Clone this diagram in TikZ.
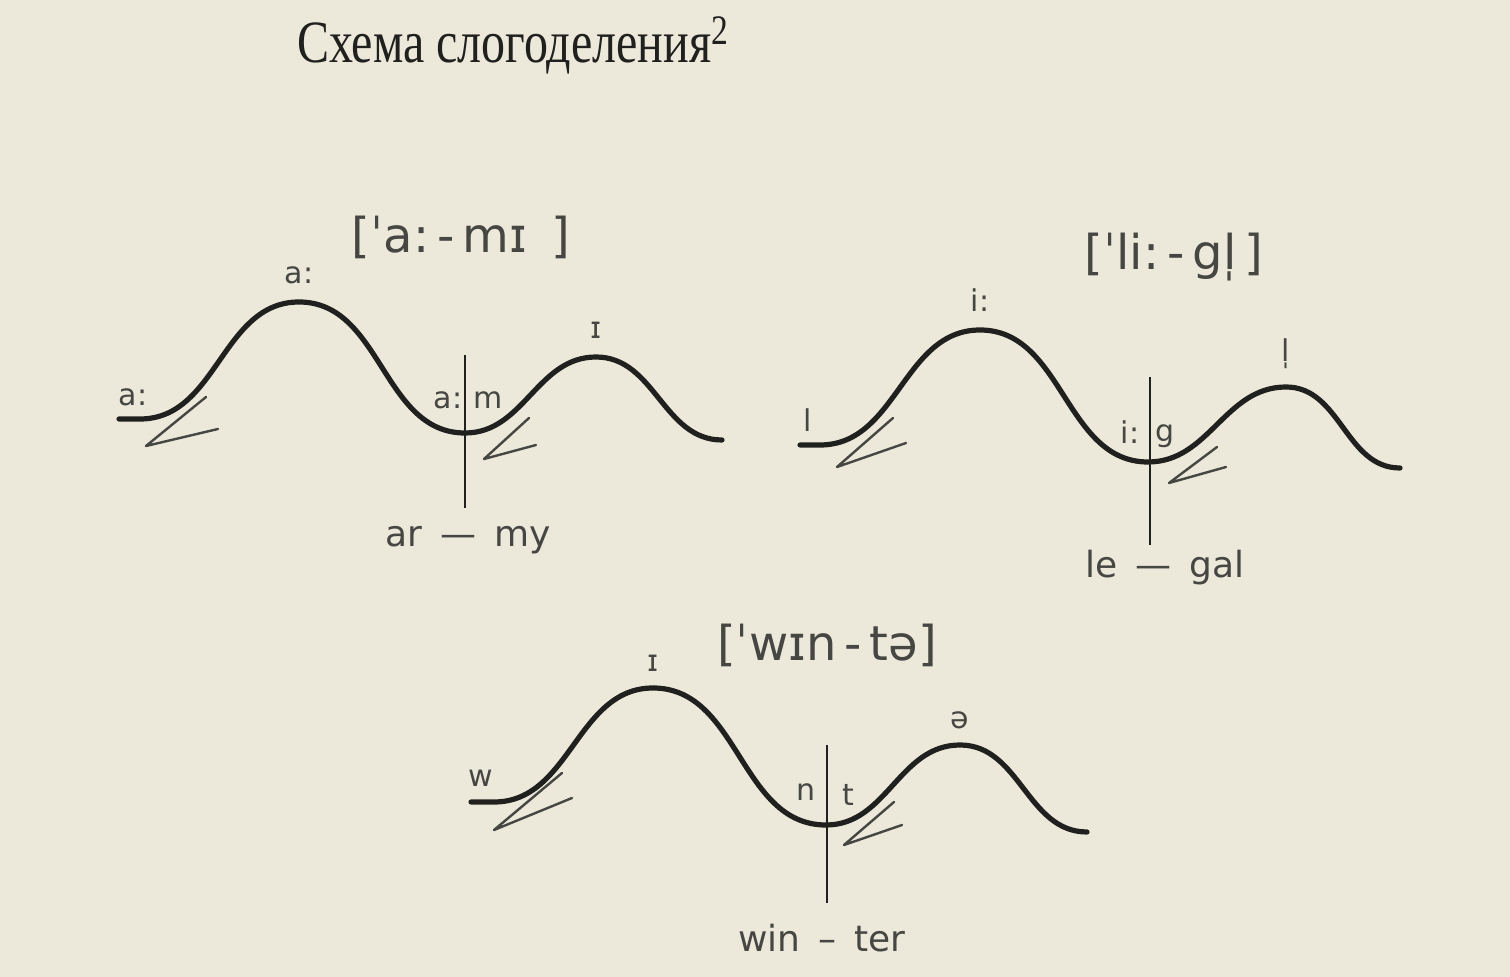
\documentclass[tikz,border=0pt]{standalone}
\usepackage{fontspec}
\setmainfont{Liberation Serif}
\newfontfamily\phonfont{DejaVu Sans}
\usetikzlibrary{positioning}
\definecolor{paper}{RGB}{236,233,219}
\definecolor{ink}{RGB}{32,32,30}
\definecolor{pencil}{RGB}{70,70,66}

\begin{document}
\begin{tikzpicture}[x=0.5pt,y=-0.5pt,
    wave/.style={ink, line width=2.6pt, line cap=round, line join=round},
    cut/.style={ink, line width=1pt},
    push/.style={pencil, line width=1.2pt, line cap=round, line join=round},
    snd/.style={pencil, inner sep=0pt, font=\phonfont\fontsize{15}{15}\selectfont},
    brk/.style={pencil, inner sep=0pt, font=\phonfont\fontsize{24}{24}\selectfont},
    word/.style={pencil, inner sep=0pt, font=\phonfont\fontsize{18}{18}\selectfont}]
    % Paper
    \fill[paper] (0,0) rectangle (1510,977);
    \useasboundingbox (0,0) rectangle (1510,977);

    \node[ink, inner sep=0pt, transform shape, xscale=0.8,
          font=\fontsize{30}{30}\selectfont] (title) at (513,45) {Схема слогоделения\textsuperscript{2}};

    % army
    \coordinate (a0) at (119,419);
    \coordinate (a1) at (140,419);
    \coordinate (a2) at (299,302);
    \coordinate (a3) at (465,433);
    \coordinate (a4) at (596,357);
    \coordinate (a5) at (722,440);
    \draw[wave] (a0) -- (a1) to[out=0,in=180] (a2) to[out=0,in=180] (a3)
                to[out=0,in=180] (a4) to[out=0,in=180] (a5);
    \draw[cut] (465,355) -- (465,508);
    \draw[push] (206,397) -- (146,446) -- (218,429);
    \draw[push] (529,418) -- (484,459) -- (536,445);
    \node[brk] (tr1) at (461,237) {[ˈa:\,-\,mɪ\enspace]};
    \node[snd] (s11) at (133,397) {a:};
    \node[snd, above=9pt of a2] (s12) {a:};
    \node[snd] (s13) at (448,400) {a:};
    \node[snd] (s14) at (488,400) {m};
    \node[snd, above=9pt of a4] (s15) {ɪ};
    \node[word] (w1) at (468,540) {ar\enspace—\enspace my};

    % legal
    \coordinate (b0) at (800,445);
    \coordinate (b1) at (820,445);
    \coordinate (b2) at (980,330);
    \coordinate (b3) at (1148,462);
    \coordinate (b4) at (1286,387);
    \coordinate (b5) at (1400,468);
    \draw[wave] (b0) -- (b1) to[out=0,in=180] (b2) to[out=0,in=180] (b3)
                to[out=0,in=180] (b4) to[out=0,in=180] (b5);
    \draw[cut] (1150,377) -- (1150,545);
    \draw[push] (893,418) -- (837,467) -- (906,443);
    \draw[push] (1217,447) -- (1169,483) -- (1226,467);
    \node[brk] (tr2) at (1174,257) {[ˈli:\,-\,gl̩\,]};
    \node[snd] (s21) at (808,420) {l};
    \node[snd, above=9pt of b2] (s22) {i:};
    \node[snd] (s23) at (1130,432) {i:};
    \node[snd] (s24) at (1165,436) {g};
    \node[snd, above=9pt of b4] (s25) {l̩};
    \node[word] (w2) at (1165,568) {le\enspace—\enspace gal};

    % winter
    \coordinate (c0) at (471,802);
    \coordinate (c1) at (494,802);
    \coordinate (c2) at (653,688);
    \coordinate (c3) at (826,825);
    \coordinate (c4) at (960,745);
    \coordinate (c5) at (1087,832);
    \draw[wave] (c0) -- (c1) to[out=0,in=180] (c2) to[out=0,in=180] (c3)
                to[out=0,in=180] (c4) to[out=0,in=180] (c5);
    \draw[cut] (827,745) -- (827,903);
    \draw[push] (562,773) -- (494,830) -- (572,798);
    \draw[push] (894,802) -- (844,845) -- (902,825);
    \node[brk] (tr3) at (827,645) {[ˈwɪn\,-\,tə]};
    \node[snd] (s31) at (481,778) {w};
    \node[snd, above=8pt of c2] (s32) {ɪ};
    \node[snd] (s33) at (806,792) {n};
    \node[snd] (s34) at (848,795) {t};
    \node[snd, above=8pt of c4] (s35) {ə};
    \node[word] (w3) at (822,938) {win\enspace–\enspace ter};
\end{tikzpicture}
\end{document}
